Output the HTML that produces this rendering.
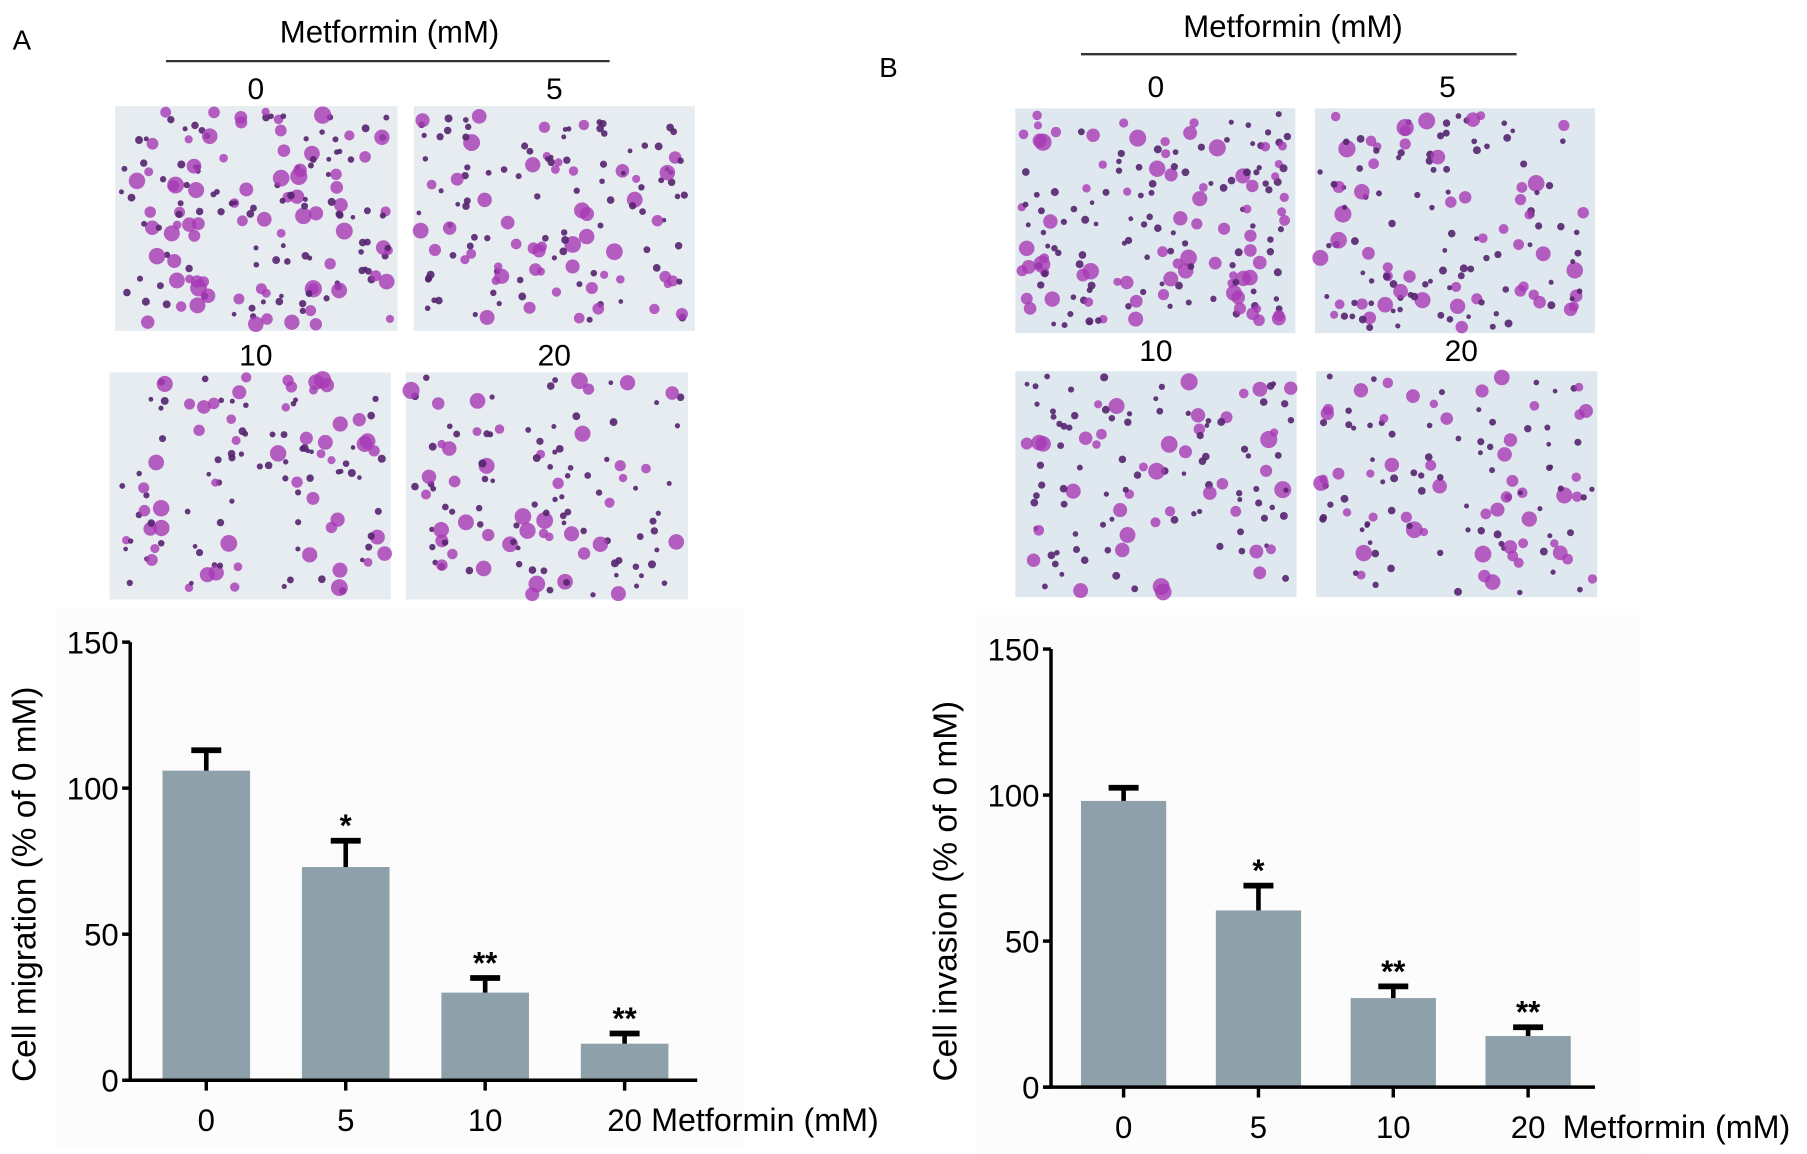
<!DOCTYPE html>
<html><head><meta charset="utf-8"><style>
html,body{margin:0;padding:0;background:#fff;}
svg{display:block;font-family:"Liberation Sans",Arial,sans-serif;}
</style></head><body>
<svg id="fig" width="1807" height="1154" viewBox="0 0 1568 1001" preserveAspectRatio="none" xmlns="http://www.w3.org/2000/svg">
<rect width="1568" height="1001" fill="#fff"/>
<text x="11" y="43" font-size="24">A</text>
<text x="763" y="67" font-size="24">B</text>
<text x="338" y="37" font-size="27" text-anchor="middle">Metformin (mM)</text>
<line x1="144" y1="53" x2="529" y2="53" stroke="#333" stroke-width="2"/>
<text x="1122" y="32" font-size="27" text-anchor="middle">Metformin (mM)</text>
<line x1="938" y1="47" x2="1316" y2="47" stroke="#333" stroke-width="2"/>
<g id="micro"></g>
<g id="chartA"></g>
<g id="chartB"></g>
</svg>
<script>
// ---- Chart data ----
const categories = ["0","5","10","20"];
const migrationValues = [106, 73, 30, 12.5];
const migrationErrors = [7, 9, 5, 3.5];
const migrationStars = ["", "*", "**", "**"];
const invasionValues = [98, 60.5, 30.5, 17.5];
const invasionErrors = [4.5, 8.5, 4, 3];
const invasionStars = ["", "*", "**", "**"];
const yTicks = [0, 50, 100, 150];

const NS = "http://www.w3.org/2000/svg";
function mk(tag, attrs, parent, text){
  const e = document.createElementNS(NS, tag);
  for (const k in attrs) e.setAttribute(k, attrs[k]);
  if (text !== undefined) e.textContent = text;
  parent.appendChild(e);
  return e;
}

// ---- Micrograph panels (decorative) ----
const panels = [
  {x:100,y:92,w:245,h:195,l:"0",lx:222,ly:86,name:"micrograph-a-0"},
  {x:359,y:92,w:244,h:195,l:"5",lx:481,ly:86,name:"micrograph-a-5"},
  {x:95,y:323,w:244,h:197,l:"10",lx:222,ly:317,name:"micrograph-a-10"},
  {x:352,y:323,w:245,h:197,l:"20",lx:481,ly:317,name:"micrograph-a-20"},
  {x:881,y:94,w:243,h:195,l:"0",lx:1003,ly:84,name:"micrograph-b-0"},
  {x:1141,y:94,w:243,h:195,l:"5",lx:1256,ly:84,name:"micrograph-b-5"},
  {x:881,y:322,w:244,h:196,l:"10",lx:1003,ly:313,name:"micrograph-b-10"},
  {x:1142,y:322,w:244,h:196,l:"20",lx:1268,ly:313,name:"micrograph-b-20"}
];
const micro = document.getElementById("micro");
let seed = 12345;
function rnd(){ seed = (seed*1103515245+12345) % 2147483648; return seed/2147483648; }
panels.forEach((p,i)=>{
  const g = mk("g",{},micro);
  
  
  mk("rect",{x:p.x,y:p.y,width:p.w,height:p.h,fill:i>=4?"#dfe8ee":"#e6ecf0"},g);
  const n = i%4===0?170:(i%4===1?140:120);
  for(let k=0;k<n;k++){
    const cx=p.x+4+rnd()*(p.w-8), cy=p.y+4+rnd()*(p.h-8);
    const r = rnd()<0.6?2+rnd()*1.5:3.5+rnd()*4;
    mk("circle",{cx:cx,cy:cy,r:r,fill:r>3.5?"#a83ab4":"#55246f",opacity:r>3.5?0.8:0.9},g);
  }
  const t = mk("text",{x:p.lx,y:p.ly,"font-size":26,"text-anchor":"middle"},micro,p.l);
  
  
});

// ---- Bar charts ----
function drawChart(gid, cfg, values, errors, stars, title){
  const g = document.getElementById(gid);
  const y = v => cfg.y0 - (v/150)*(cfg.y0-cfg.y150);
  const x = i => cfg.c0 + i*cfg.step;
  mk("rect",{x:cfg.ax-65,y:cfg.y150-30,width:cfg.xEnd-cfg.ax+105,height:cfg.y0-cfg.y150+90,fill:"#fcfcfc"},g);
  values.forEach((v,i)=>{
    const b = mk("rect",{x:x(i)-cfg.bw/2,y:y(v),width:cfg.bw,height:cfg.y0-y(v),fill:"#8ea0aa"},g);
    
    
    const top = y(v+errors[i]);
    const e1 = mk("line",{x1:x(i),y1:y(v),x2:x(i),y2:top,stroke:"#000","stroke-width":4},g);
    
    
    const e2 = mk("line",{x1:x(i)-13,y1:top,x2:x(i)+13,y2:top,stroke:"#000","stroke-width":5},g);
    
    
    if (stars[i]) {
      const s = mk("text",{x:x(i),y:top-4,"font-size":27,"font-weight":"bold","text-anchor":"middle"},g,stars[i]);
      
      
    }
    const tk = mk("line",{x1:x(i),y1:cfg.y0,x2:x(i),y2:cfg.y0+9,stroke:"#000","stroke-width":3},g);
    
    
    const tl = mk("text",{x:x(i),y:cfg.y0+44,"font-size":27,"text-anchor":"middle"},g,categories[i]);
    
    
  });
  const ya = mk("line",{x1:cfg.ax,y1:cfg.y150,x2:cfg.ax,y2:cfg.y0,stroke:"#000","stroke-width":3},g);
  
  
  const xa = mk("line",{x1:cfg.ax-6,y1:cfg.y0,x2:cfg.xEnd,y2:cfg.y0,stroke:"#000","stroke-width":3},g);
  
  
  yTicks.forEach(t=>{
    const l = mk("line",{x1:cfg.ax-7,y1:y(t),x2:cfg.ax,y2:y(t),stroke:"#000","stroke-width":3},g);
    
    
    const tt = mk("text",{x:cfg.ax-10,y:y(t)+10,"font-size":27,"text-anchor":"end"},g,String(t));
    
    
  });
  const xt = mk("text",{x:cfg.xTitleX,y:cfg.y0+44,"font-size":28},g,"Metformin (mM)");
  
  
  const yt = mk("text",{x:0,y:0,"font-size":29,"text-anchor":"middle",transform:"translate("+cfg.yTitleX+","+((cfg.y0+cfg.y150)/2+20)+") rotate(-90)"},g,title);
  
  
}
drawChart("chartA",{ax:113,y0:937,y150:557,xEnd:605,c0:179,step:121,bw:76,xTitleX:565,yTitleX:31},
  migrationValues, migrationErrors, migrationStars, "Cell migration (% of 0 mM)");
drawChart("chartB",{ax:912,y0:943,y150:563,xEnd:1384,c0:975,step:117,bw:74,xTitleX:1356,yTitleX:830},
  invasionValues, invasionErrors, invasionStars, "Cell invasion (% of 0 mM)");
</script>
</body></html>
